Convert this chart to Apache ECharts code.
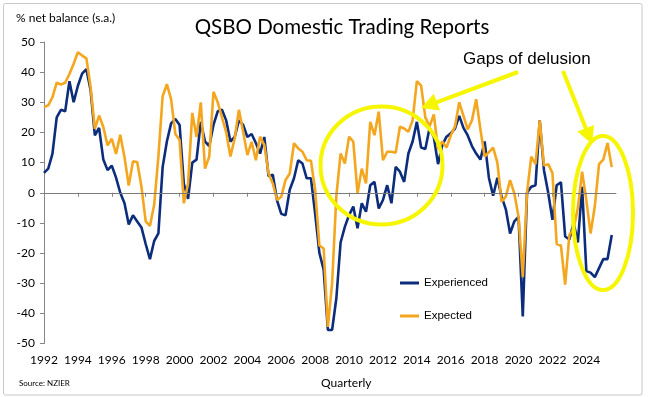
<!DOCTYPE html>
<html>
<head>
<meta charset="utf-8">
<script src="https://cdn.jsdelivr.net/npm/echarts@6/dist/echarts.min.js"></script>
<style>
  html, body { margin: 0; padding: 0; background: #fff; }
  #chart { width: 649px; height: 397px; }
</style>
</head>
<body>
<div id="chart"></div>
<script>
// quarterly categories 1992Q1 .. 2025Q4
var quarters = [];
for (var yr = 1992; yr <= 2025; yr++) {
  for (var q = 1; q <= 4; q++) quarters.push(yr + 'Q' + q);
}

// % net balance
var experienced = [
  6.6, 8, 13, 25, 27.5, 27, 37, 30, 35.5, 39.5,
  41, 34, 19, 21.5, 11, 7.5, 9, 5, 0, -3.5,
  -10.5, -7.5, -9.5, -11.5, -17, -22, -16, -13.5, 8.5, 17,
  23, 24.5, 22.5, 3, -2, 10, 11, 23.5, 17, 15.5,
  22.5, 27, 27.5, 24, 17, 18.5, 24, 22.5, 18.5, 19.5,
  16.5, 13, 18.5, 5.5, 6, -2.5, -7, -7.5, 1, 4.8,
  10.8, 9.7, 4.8, 4.8, -7, -20, -25.5, -45.5, -45.5, -35,
  -16.5, -11.3, -7.4, -4.6, -11.8, -3.5, -6.3, 2.5, 3.6, -5.2,
  -2.4, 2.5, -3.5, 8.6, 7, 3.6, 13, 17, 23.5, 15,
  14.5, 21.5, 18.5, 9.5, 15.8, 18.6, 19.7, 21.3, 25.5, 21.5,
  19, 15.5, 13, 11, 17, 5, -1, 5, -1.3, -5.5,
  -13.5, -9.5, -8, -41, 0, 2, 2.5, 24, 7.5, 0,
  -9, 2.5, 3.5, -14.5, -15.5, -10, -16.5, 2, -26, -26.5,
  -28, -25, -22, -22, -14, null
];
var expected = [
  28.4, 29, 31.7, 36.5, 35.9, 36.5, 39.4, 42.8, 46.6, 45.5,
  44.6, 35, 21.2, 25.6, 21.8, 15.7, 17.9, 12.9, 19.2, 11.8,
  2.4, 10.4, 10.2, 2, -9.5, -11, -4, 12, 32, 36,
  31, 19.5, 17.5, -3.5, 3, 26.5, 18.5, 30, 8, 12,
  33.5, 30, 25, 20, 12, 18, 27.5, 20.2, 12.5, 16.9,
  10.8, 18.6, 15.8, 6.4, 3.1, -2.4, -1.3, 4.2, 6.4, 16.4,
  14.7, 13.6, 10.8, 10.6, 0.9, -17.5, -18.5, -44.5, -30, -1,
  13, 9.7, 18.6, 16.9, -0.2, 8, 3.1, 23.5, 19.1, 26.9,
  10.8, 13.6, 13.6, 13.3, 21.9, 21.3, 20.2, 24, 37, 35.5,
  25, 22, 26, 14.5, 17, 15, 19, 22, 30, 25.5,
  21, 24, 31, 21, 12, 13.5, 15, 10, -3, -1.3,
  4.2, -0.2, -8, -28, 0, 12, 9.5, 24, 9, 9.5,
  6.5, -17, -17.5, -30.5, -14, -12, -5, 7, -2.5, -13.5,
  -4.5, 9.5, 11, 16.5, 8.5, null
];

var blue = '#0c2c7c';
var orange = '#f4a61e';
var yellow = '#f6f600';
var axisGrey = '#868686';
var calibri = 'Lato, "Open Sans", sans-serif';
var arial = '"Liberation Sans", Arial, sans-serif';

// straight arrow with a filled head, tip at (tx, ty)
function arrow(x1, y1, tx, ty) {
  var dx = tx - x1, dy = ty - y1;
  var len = Math.sqrt(dx * dx + dy * dy);
  var ux = dx / len, uy = dy / len;
  var head = 17, half = 9;
  var bx = tx - ux * head, by = ty - uy * head;
  return [
    { type: 'line', z: 100, shape: { x1: x1, y1: y1, x2: bx + ux * 2, y2: by + uy * 2 },
      style: { stroke: yellow, lineWidth: 4 } },
    { type: 'polygon', z: 100,
      shape: { points: [[tx, ty], [bx - uy * half, by + ux * half], [bx + uy * half, by - ux * half]] },
      style: { fill: yellow } }
  ];
}

var chart = echarts.init(document.getElementById('chart'), null, { renderer: 'canvas' });

var option = {
  animation: false,
  backgroundColor: '#fff',
  title: {
    text: 'QSBO Domestic Trading Reports',
    left: 337,
    textAlign: 'center',
    top: 12,
    textStyle: { fontFamily: calibri, fontSize: 20.5, fontWeight: 'normal', color: '#000' }
  },
  legend: {
    orient: 'vertical',
    left: 395,
    top: 272,
    icon: 'rect',
    itemWidth: 19,
    itemHeight: 3,
    itemGap: 21,
    textStyle: { fontFamily: arial, fontSize: 11.5, color: '#000' },
    data: ['Experienced', 'Expected']
  },
  grid: { left: 44, right: 33, top: 42, bottom: 53.5 },
  xAxis: {
    type: 'category',
    data: quarters,
    boundaryGap: false,
    axisLine: { lineStyle: { color: axisGrey, width: 1 } },
    axisTick: {
      length: 4,
      lineStyle: { color: axisGrey },
      interval: function (i) { return i % 8 === 0; }
    },
    axisLabel: {
      interval: function (i) { return i % 8 === 0; },
      formatter: function (v) { return v.slice(0, 4); },
      fontFamily: calibri,
      fontSize: 12,
      color: '#000',
      margin: 11
    },
    splitLine: { show: false }
  },
  yAxis: {
    type: 'value',
    min: -50,
    max: 50,
    interval: 10,
    axisLine: { show: true, lineStyle: { color: axisGrey, width: 1 } },
    axisTick: { show: true, length: 4, lineStyle: { color: axisGrey } },
    axisLabel: { fontFamily: calibri, fontSize: 12, color: '#000', margin: 9 },
    splitLine: { show: false }
  },
  series: [
    {
      name: 'Experienced',
      type: 'line',
      data: experienced,
      showSymbol: false,
      symbol: 'none',
      color: blue,
      lineStyle: { color: blue, width: 2.6 },
      markLine: {
        silent: true,
        symbol: 'none',
        label: { show: false },
        lineStyle: { color: '#7a7a7a', width: 1, type: 'solid' },
        data: [{ yAxis: 0 }]
      }
    },
    {
      name: 'Expected',
      type: 'line',
      data: expected,
      showSymbol: false,
      symbol: 'none',
      color: orange,
      lineStyle: { color: orange, width: 2.6 }
    }
  ],
  graphic: [
    { type: 'rect', silent: true, shape: { x: 3.5, y: 3.5, width: 638.5, height: 391.5, r: 2 },
      style: { fill: 'none', stroke: '#c8c8c8', lineWidth: 1 } },
    { type: 'text', left: 16, top: 12,
      style: { text: '% net balance (s.a.)', font: '12px ' + calibri, fill: '#000' } },
    { type: 'text', left: 321, top: 377,
      style: { text: 'Quarterly', font: '12px ' + calibri, fill: '#000' } },
    { type: 'text', left: 19, top: 379,
      style: { text: 'Source: NZIER', font: '8px ' + calibri, fill: '#000' } },
    { type: 'text', left: 463, top: 51, z: 100,
      style: { text: 'Gaps of delusion', font: '17px ' + arial, fill: '#000' } },
    { type: 'ellipse', z: 100, shape: { cx: 381.5, cy: 165.5, rx: 61, ry: 59 },
      style: { fill: 'none', stroke: yellow, lineWidth: 4 } },
    { type: 'ellipse', z: 100, shape: { cx: 603, cy: 213, rx: 30, ry: 77 },
      style: { fill: 'none', stroke: yellow, lineWidth: 4 } }
  ].concat(arrow(518, 72, 421, 108)).concat(arrow(563, 71, 592, 144))
};

chart.setOption(option);
</script>
</body>
</html>
